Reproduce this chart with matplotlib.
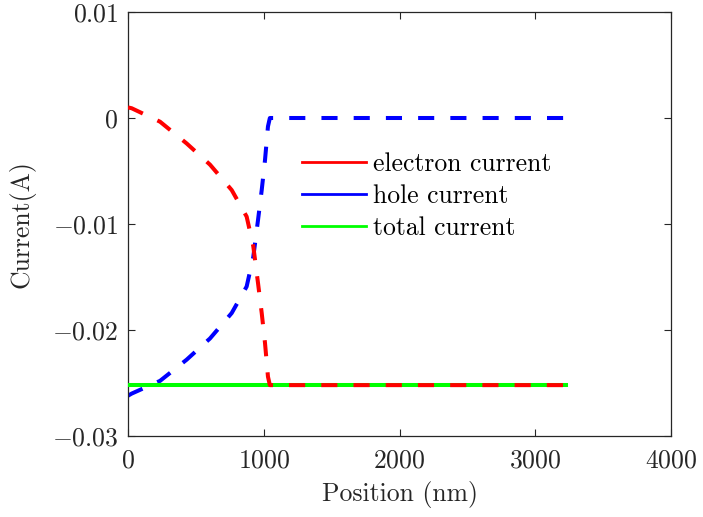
import numpy as np
import matplotlib.pyplot as plt
from matplotlib.lines import Line2D

# Position grid (nm) and currents (A)
position = [0, 27, 236, 432, 604, 764, 874, 923, 958, 985, 1009, 1031, 1045,
            1200, 1600, 2000, 2400, 2800, 3230]
electron = [0.0010, 0.00092, -0.00035, -0.0024, -0.0044, -0.0068, -0.0093, -0.0121,
            -0.0156, -0.0184, -0.0212, -0.0244, -0.0252,
            -0.0252, -0.0252, -0.0252, -0.0252, -0.0252, -0.0252]
hole = [-0.0262, -0.0260, -0.0248, -0.0228, -0.0208, -0.0184, -0.0159, -0.0131,
        -0.0096, -0.0068, -0.0040, -0.0008, 0.0000,
        0.0000, 0.0000, 0.0000, 0.0000, 0.0000, 0.0000]
total = [-0.0252] * len(position)
labels = ['electron current', 'hole current', 'total current']
xticks = [0, 1000, 2000, 3000, 4000]
yticks = [-0.03, -0.02, -0.01, 0, 0.01]

plt.rcParams['font.family'] = 'serif'
plt.rcParams['font.serif'] = ['cmr10']
plt.rcParams['mathtext.fontset'] = 'cm'
plt.rcParams['axes.formatter.use_mathtext'] = True
plt.rcParams['font.size'] = 18.5

fig = plt.figure(figsize=(7.03, 5.17), dpi=100)
ax = fig.add_axes([128 / 703, 81 / 517, 543 / 703, 424 / 517])

dash = (0, (4, 4))
ax.plot(position, hole, color='#0000ff', lw=2.9, ls=dash, zorder=2)
ax.plot(position, total, color='#00ff00', lw=2.9, zorder=3)
ax.plot(position, electron, color='#ff0000', lw=2.9, ls=dash, zorder=4)

ax.set_xlim(0, 4000)
ax.set_ylim(-0.03, 0.01)
ax.set_xticks(xticks)
ax.set_xticklabels([f'${v:g}$' for v in xticks])
ax.set_yticks(yticks)
ax.set_yticklabels([f'${v:g}$' for v in yticks])
ax.tick_params(direction='in', length=5, width=0.8, top=True, right=True,
               colors='#262626', labelcolor='#262626')
ax.tick_params(axis='x', pad=9)
ax.tick_params(axis='y', pad=7)
for s in ax.spines.values():
    s.set_color('#262626')
    s.set_linewidth(0.9)

ax.set_xlabel('Position (nm)', color='#262626', labelpad=6)
ax.set_ylabel('Current(A)', color='#262626', labelpad=12)

handles = [Line2D([], [], color=c, lw=2) for c in ['#ff0000', '#0000ff', '#00ff00']]
ax.legend(handles, labels, loc='upper left', bbox_to_anchor=(0.278, 0.724),
          frameon=False, handlelength=2.5, handletextpad=0.27, labelspacing=0.33)

fig.savefig('out.png', dpi=100)
